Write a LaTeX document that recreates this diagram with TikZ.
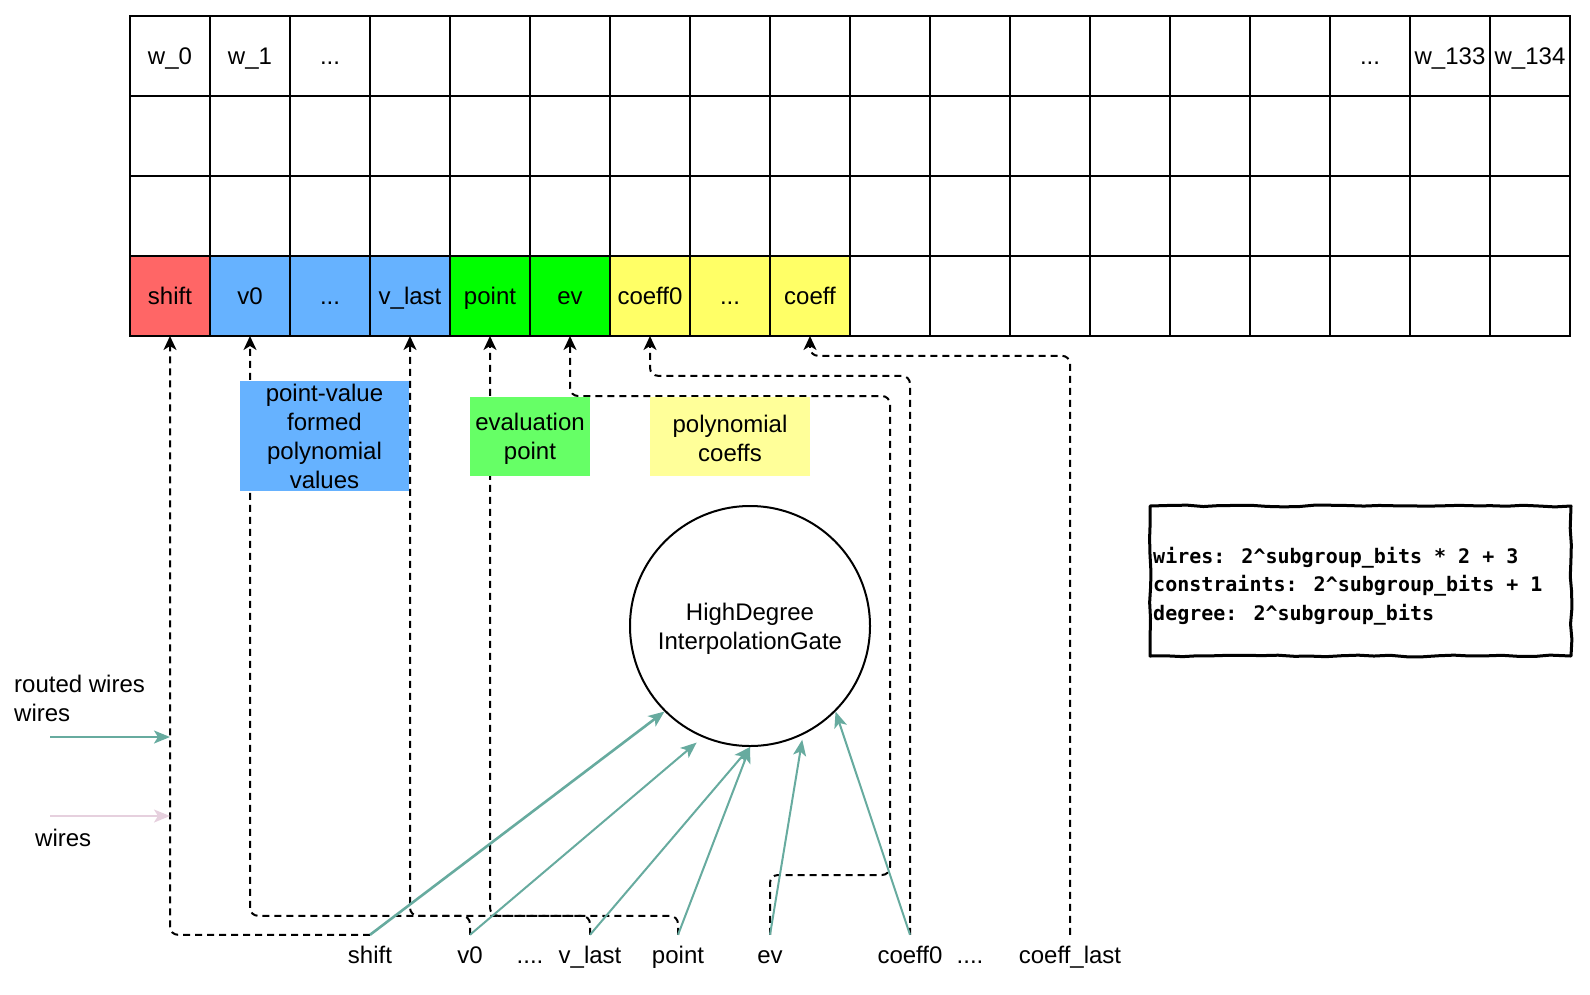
\documentclass[tikz,border=0pt]{standalone}
\usepackage{fontspec}
\setmainfont{Liberation Sans}
\newfontfamily\codefont{DejaVu Sans Mono}
\usetikzlibrary{arrows.meta,decorations.pathmorphing,calc}
\definecolor{cred}{HTML}{FF6666}
\definecolor{cblue}{HTML}{66B2FF}
\definecolor{cgreen}{HTML}{00FF00}
\definecolor{cyellow}{HTML}{FFFF66}
\definecolor{lgreen}{HTML}{66FF66}
\definecolor{lyellow}{HTML}{FFFF99}
\definecolor{wireteal}{HTML}{67AB9F}
\definecolor{wirepink}{HTML}{E6D0DE}
\newcommand{\fsz}{\fontsize{24}{29}\selectfont}
\begin{document}
\begin{tikzpicture}[x=1pt,y=-1pt,
  cell/.style={draw=black, line width=2pt, minimum width=80pt, minimum height=80pt, inner sep=0pt, outer sep=0pt, font=\fsz, text height=20pt, text depth=4pt},
  txt/.style={font=\fsz, inner sep=0pt},
  stxt/.style={font=\fsz, inner sep=0pt, text height=20pt, text depth=4pt},
  lbl/.style={font=\fsz, minimum height=40pt, inner sep=0pt, text height=20pt, text depth=4pt},
  callout/.style={font=\fsz, align=center, inner sep=0pt},
  route/.style={draw=black, line width=2pt, dash pattern=on 7pt off 5pt, rounded corners=8pt, -{Stealth[length=14pt,width=13pt,inset=4pt]}},
  wire/.style={draw=wireteal, line width=2pt, -{Stealth[length=16pt,width=13pt,inset=4pt]}}
]
\useasboundingbox (0,0) rectangle (1590,994);

% grid rows 0..2
\foreach \r in {0,1,2}{
  \foreach \c in {0,...,17}{
    \node[cell] (g\r-\c) at ({170+80*\c},{56+80*\r}) {};
  }
}
% row 3 plain cells
\foreach \c in {9,...,17}{
  \node[cell] (g3-\c) at ({170+80*\c},296) {};
}
% row 3 coloured cells
\node[cell, fill=cred]    (g3-0) at (170,296) {shift};
\node[cell, fill=cblue]   (g3-1) at (250,296) {v0};
\node[cell, fill=cblue]   (g3-2) at (330,296) {...};
\node[cell, fill=cblue]   (g3-3) at (410,296) {v\_last};
\node[cell, fill=cgreen]  (g3-4) at (490,296) {point};
\node[cell, fill=cgreen]  (g3-5) at (570,296) {ev};
\node[cell, fill=cyellow] (g3-6) at (650,296) {coeff0};
\node[cell, fill=cyellow] (g3-7) at (730,296) {...};
\node[cell, fill=cyellow] (g3-8) at (810,296) {coeff};

% row 0 labels
\node[stxt] (t0) at (g0-0) {w\_0};
\node[stxt] (t1) at (g0-1) {w\_1};
\node[stxt] (t2) at (g0-2) {...};
\node[stxt] (t15) at (g0-15) {...};
\node[stxt] (t16) at (g0-16) {w\_133};
\node[stxt] (t17) at (g0-17) {w\_134};

% bottom labels
\node[lbl] (bshift) at (370,955) {shift};
\node[lbl] (bv0) at (470,955) {v0};
\node[lbl] (bdotsa) at (530,955) {....};
\node[lbl] (bvlast) at (590,955) {v\_last};
\node[lbl] (bpoint) at (678,955) {point};
\node[lbl] (bev) at (770,955) {ev};
\node[lbl] (bcoeffz) at (910,955) {coeff0};
\node[lbl] (bdotsb) at (970,955) {....};
\node[lbl] (bcoefflast) at (1070,955) {coeff\_last};

% dashed routes
\coordinate (evA) at (890,875);
\coordinate (evB) at (890,396);
\draw[route] (bshift.north) -| (g3-0.south);
\draw[route] (bv0.north) -- ++(0,-19) -| (g3-1.south);
\draw[route] (bvlast.north) -- ++(0,-19) -| (g3-3.south);
\draw[route] (bpoint.north) -- ++(0,-19) -| (g3-4.south);
\draw[route] (bev.north) |- (evA) -- (evB) -| (g3-5.south);
\draw[route] (bcoeffz.north) -- ++(0,-559) -| (g3-6.south);
\draw[route] (bcoefflast.north) -- ++(0,-579) -| (g3-8.south);

% callouts
\node[callout, fill=cblue, minimum width=169pt, minimum height=110pt] (bluebox) at (324.5,436) {point-value\\formed\\polynomial\\values};
\node[callout, fill=lgreen, minimum width=120pt, minimum height=79pt] (greenbox) at (530,436.5) {};
\node[callout] (greentxt) at (530,439) {evaluation\\point};
\node[callout, fill=lyellow, minimum width=160pt, minimum height=79pt] (yellowbox) at (730,436.5) {};
\node[callout] (yellowtxt) at (730,438) {polynomial\\coeffs};

% gate
\node[draw=black, circle, line width=2pt, minimum size=240pt, inner sep=0pt, fill=white] (gate) at (750,626) {};
\node[callout] (gatetxt) at (750,629) {HighDegree\\InterpolationGate};

% wires into gate
\draw[wire, line width=2.6pt] (bshift.north) -- (gate.225);
\draw[wire, shorten >=8pt] (bv0.north) -- (gate.247);
\draw[wire] (bvlast.north) -- (gate.270);
\draw[wire] (bpoint.north) -- (gate.270);
\draw[wire, shorten >=5pt] (bev.north) -- (gate.296);
\draw[wire] (bcoeffz.north) -- (gate.315);

% legend
\coordinate (lgAs) at (50,737);
\coordinate (lgAe) at (170,737);
\coordinate (lgBs) at (50,816);
\coordinate (lgBe) at (170,816);
\draw[wire] (lgAs) -- (lgAe);
\draw[wire, draw=wirepink] (lgBs) -- (lgBe);
\node[txt, anchor=west, align=left] (lgtxt) at (14,698) {routed wires\\wires};
\node[txt, anchor=west] (lgtxtb) at (35,838) {wires};

% info box
\pgfmathsetseed{7}
\draw[line width=3pt, line join=round, decorate, decoration={random steps, segment length=16pt, amplitude=0.9pt}] (1150,506) rectangle (1571,656);
\node[anchor=west, align=left, inner sep=0pt, font=\codefont\bfseries\fontsize{20}{28.5}\selectfont] (info) at (1153,586)
  {wires: 2\textasciicircum subgroup\_bits * 2 + 3\\constraints: 2\textasciicircum subgroup\_bits + 1\\degree: 2\textasciicircum subgroup\_bits};
\end{tikzpicture}
\end{document}
